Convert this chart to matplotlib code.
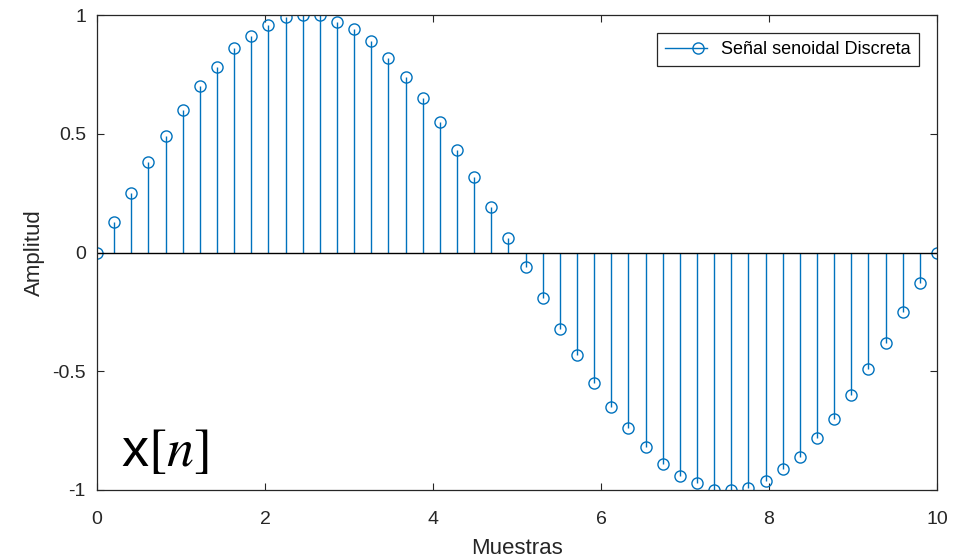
import numpy as np
import matplotlib.pyplot as plt
from matplotlib.lines import Line2D
from matplotlib.legend_handler import HandlerBase

# muestras de la senal
amplitud = [0.00, 0.13, 0.25, 0.38, 0.49, 0.60, 0.70, 0.78, 0.86, 0.91,
            0.96, 0.99, 1.00, 1.00, 0.97, 0.94, 0.89, 0.82, 0.74, 0.65,
            0.55, 0.43, 0.32, 0.19, 0.06, -0.06, -0.19, -0.32, -0.43, -0.55,
            -0.65, -0.74, -0.82, -0.89, -0.94, -0.97, -1.00, -1.00, -0.99, -0.96,
            -0.91, -0.86, -0.78, -0.70, -0.60, -0.49, -0.38, -0.25, -0.13, 0.00]
muestras = np.linspace(0, 10, len(amplitud))
xticks = [0, 2, 4, 6, 8, 10]
yticks = [-1, -0.5, 0, 0.5, 1]
ytick_labels = ['-1', '-0.5', '0', '0.5', '1']

plt.rcParams['font.family'] = ['Liberation Sans', 'DejaVu Sans']
plt.rcParams['mathtext.fontset'] = 'stix'

blue = (0.0, 0.447, 0.741)
grey = (0.15, 0.15, 0.15)


# legend entry like matlab: line with the circle at the end
class StemHandler(HandlerBase):
    def create_artists(self, legend, orig, xdescent, ydescent, width, height,
                       fontsize, trans):
        y = height / 2.0 - ydescent
        x0 = -xdescent
        x1 = width - xdescent
        line = Line2D([x0, x1], [y, y], color=blue, linewidth=1.0)
        mark = Line2D([x0 + 0.8 * (x1 - x0)], [y], marker='o', markersize=8,
                      markerfacecolor='none', markeredgecolor=blue,
                      markeredgewidth=1.0)
        line.set_transform(trans)
        mark.set_transform(trans)
        return [line, mark]


fig = plt.figure(figsize=(9.68, 5.59), dpi=100)
ax = fig.add_axes([97/968, 1-490/559, 840/968, 475/559])

markers, stems, base = ax.stem(muestras, amplitud, label='Señal senoidal Discreta')
plt.setp(stems, color=blue, linewidth=1.0)
plt.setp(markers, color=blue, marker='o', markerfacecolor='none',
         markersize=8, markeredgewidth=1.0)
plt.setp(base, color='black', linewidth=1.0)

ax.set_xlim(0, 10)
ax.set_ylim(-1, 1)
ax.set_xticks(xticks)
ax.set_yticks(yticks)
ax.set_yticklabels(ytick_labels)
ax.tick_params(direction='in', top=True, right=True, length=5, width=0.8,
               colors=grey, labelsize=14)
ax.tick_params(axis='x', pad=15)
ax.tick_params(axis='y', pad=8)
for s in ax.spines.values():
    s.set_color(grey)
    s.set_linewidth(0.9)

ax.set_xlabel('Muestras', fontsize=16, color=grey, labelpad=7)
ax.set_ylabel('Amplitud', fontsize=16, color=grey, labelpad=5)

leg = ax.legend(handles=[markers], labels=['Señal senoidal Discreta'],
                handler_map={type(markers): StemHandler()},
                loc='upper right', fontsize=13, fancybox=False, framealpha=1,
                edgecolor=grey, borderaxespad=1.0, handlelength=2.3,
                borderpad=0.45)
leg.get_frame().set_linewidth(0.9)

# etiqueta grande de la senal
ax.text(0.28, -0.9, 'x$[n]$', fontsize=39, color='black', va='baseline')

fig.savefig('out.png', dpi=100)
